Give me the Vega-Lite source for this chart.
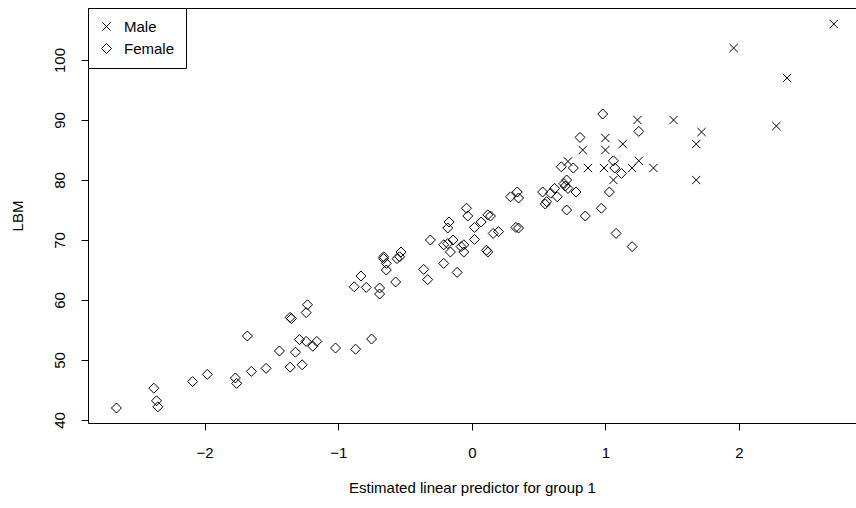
{
  "$schema": "https://vega.github.io/schema/vega-lite/v6.json",
  "autosize": {"type": "none"},
  "padding": {"left": 88, "top": 8, "right": 0, "bottom": 85},
  "width": 768,
  "height": 415,
  "background": "white",
  "data": {"values": [
    {"x": 2.71, "lbm": 106, "sex": "Male"},
    {"x": 1.96, "lbm": 102, "sex": "Male"},
    {"x": 2.36, "lbm": 97, "sex": "Male"},
    {"x": 2.28, "lbm": 89, "sex": "Male"},
    {"x": 1.51, "lbm": 90, "sex": "Male"},
    {"x": 1.72, "lbm": 88, "sex": "Male"},
    {"x": 1.68, "lbm": 86, "sex": "Male"},
    {"x": 1.68, "lbm": 80, "sex": "Male"},
    {"x": 1.24, "lbm": 90, "sex": "Male"},
    {"x": 1.13, "lbm": 86, "sex": "Male"},
    {"x": 1.00, "lbm": 87, "sex": "Male"},
    {"x": 0.83, "lbm": 85, "sex": "Male"},
    {"x": 1.00, "lbm": 85, "sex": "Male"},
    {"x": 0.72, "lbm": 83.1, "sex": "Male"},
    {"x": 0.87, "lbm": 82, "sex": "Male"},
    {"x": 0.99, "lbm": 82, "sex": "Male"},
    {"x": 1.20, "lbm": 82, "sex": "Male"},
    {"x": 1.25, "lbm": 83.2, "sex": "Male"},
    {"x": 1.36, "lbm": 82, "sex": "Male"},
    {"x": 1.06, "lbm": 80, "sex": "Male"},
    {"x": -2.66, "lbm": 42.0, "sex": "Female"},
    {"x": -2.38, "lbm": 45.3, "sex": "Female"},
    {"x": -2.36, "lbm": 43.2, "sex": "Female"},
    {"x": -2.35, "lbm": 42.2, "sex": "Female"},
    {"x": -2.09, "lbm": 46.4, "sex": "Female"},
    {"x": -1.98, "lbm": 47.6, "sex": "Female"},
    {"x": -1.77, "lbm": 47.0, "sex": "Female"},
    {"x": -1.76, "lbm": 46.1, "sex": "Female"},
    {"x": -1.65, "lbm": 48.1, "sex": "Female"},
    {"x": -1.54, "lbm": 48.6, "sex": "Female"},
    {"x": -1.68, "lbm": 54.0, "sex": "Female"},
    {"x": -1.44, "lbm": 51.5, "sex": "Female"},
    {"x": -1.36, "lbm": 57.1, "sex": "Female"},
    {"x": -1.35, "lbm": 56.9, "sex": "Female"},
    {"x": -1.32, "lbm": 51.3, "sex": "Female"},
    {"x": -1.36, "lbm": 48.8, "sex": "Female"},
    {"x": -1.27, "lbm": 49.2, "sex": "Female"},
    {"x": -1.29, "lbm": 53.4, "sex": "Female"},
    {"x": -1.23, "lbm": 59.2, "sex": "Female"},
    {"x": -1.24, "lbm": 57.9, "sex": "Female"},
    {"x": -1.24, "lbm": 53.1, "sex": "Female"},
    {"x": -1.19, "lbm": 52.3, "sex": "Female"},
    {"x": -1.16, "lbm": 53.1, "sex": "Female"},
    {"x": -1.02, "lbm": 52.0, "sex": "Female"},
    {"x": -0.87, "lbm": 51.8, "sex": "Female"},
    {"x": -0.75, "lbm": 53.5, "sex": "Female"},
    {"x": -0.83, "lbm": 64.0, "sex": "Female"},
    {"x": -0.88, "lbm": 62.2, "sex": "Female"},
    {"x": -0.79, "lbm": 62.1, "sex": "Female"},
    {"x": -0.69, "lbm": 62.0, "sex": "Female"},
    {"x": -0.69, "lbm": 61.0, "sex": "Female"},
    {"x": -0.57, "lbm": 63.0, "sex": "Female"},
    {"x": -0.66, "lbm": 66.9, "sex": "Female"},
    {"x": -0.64, "lbm": 66.1, "sex": "Female"},
    {"x": -0.64, "lbm": 65.0, "sex": "Female"},
    {"x": -0.66, "lbm": 67.2, "sex": "Female"},
    {"x": -0.54, "lbm": 67.2, "sex": "Female"},
    {"x": -0.53, "lbm": 68.0, "sex": "Female"},
    {"x": -0.56, "lbm": 66.9, "sex": "Female"},
    {"x": -0.36, "lbm": 65.1, "sex": "Female"},
    {"x": -0.33, "lbm": 63.4, "sex": "Female"},
    {"x": -0.31, "lbm": 70.0, "sex": "Female"},
    {"x": -0.21, "lbm": 66.1, "sex": "Female"},
    {"x": -0.11, "lbm": 64.6, "sex": "Female"},
    {"x": -0.21, "lbm": 69.2, "sex": "Female"},
    {"x": -0.18, "lbm": 69.4, "sex": "Female"},
    {"x": -0.14, "lbm": 70.0, "sex": "Female"},
    {"x": -0.16, "lbm": 68.0, "sex": "Female"},
    {"x": -0.17, "lbm": 73.0, "sex": "Female"},
    {"x": -0.18, "lbm": 72.0, "sex": "Female"},
    {"x": -0.06, "lbm": 69.2, "sex": "Female"},
    {"x": -0.06, "lbm": 68.0, "sex": "Female"},
    {"x": -0.04, "lbm": 75.3, "sex": "Female"},
    {"x": -0.03, "lbm": 74.0, "sex": "Female"},
    {"x": 0.02, "lbm": 72.1, "sex": "Female"},
    {"x": 0.02, "lbm": 70.1, "sex": "Female"},
    {"x": 0.07, "lbm": 73.0, "sex": "Female"},
    {"x": 0.12, "lbm": 74.2, "sex": "Female"},
    {"x": 0.14, "lbm": 74.0, "sex": "Female"},
    {"x": 0.16, "lbm": 71.1, "sex": "Female"},
    {"x": 0.20, "lbm": 71.4, "sex": "Female"},
    {"x": -0.08, "lbm": 68.9, "sex": "Female"},
    {"x": 0.11, "lbm": 68.3, "sex": "Female"},
    {"x": 0.12, "lbm": 68.0, "sex": "Female"},
    {"x": 0.33, "lbm": 72.1, "sex": "Female"},
    {"x": 0.35, "lbm": 72.0, "sex": "Female"},
    {"x": 0.29, "lbm": 77.2, "sex": "Female"},
    {"x": 0.34, "lbm": 78.0, "sex": "Female"},
    {"x": 0.35, "lbm": 77.0, "sex": "Female"},
    {"x": 0.53, "lbm": 78.0, "sex": "Female"},
    {"x": 0.55, "lbm": 76.0, "sex": "Female"},
    {"x": 0.56, "lbm": 76.4, "sex": "Female"},
    {"x": 0.59, "lbm": 77.8, "sex": "Female"},
    {"x": 0.62, "lbm": 78.6, "sex": "Female"},
    {"x": 0.64, "lbm": 77.2, "sex": "Female"},
    {"x": 0.67, "lbm": 82.2, "sex": "Female"},
    {"x": 0.69, "lbm": 79.4, "sex": "Female"},
    {"x": 0.70, "lbm": 79.0, "sex": "Female"},
    {"x": 0.72, "lbm": 78.6, "sex": "Female"},
    {"x": 0.71, "lbm": 80.0, "sex": "Female"},
    {"x": 0.71, "lbm": 75.0, "sex": "Female"},
    {"x": 0.76, "lbm": 82.0, "sex": "Female"},
    {"x": 0.78, "lbm": 78.0, "sex": "Female"},
    {"x": 0.81, "lbm": 87.1, "sex": "Female"},
    {"x": 0.85, "lbm": 74.0, "sex": "Female"},
    {"x": 0.97, "lbm": 75.3, "sex": "Female"},
    {"x": 0.98, "lbm": 91.0, "sex": "Female"},
    {"x": 1.03, "lbm": 78.0, "sex": "Female"},
    {"x": 1.06, "lbm": 83.2, "sex": "Female"},
    {"x": 1.07, "lbm": 82.0, "sex": "Female"},
    {"x": 1.08, "lbm": 71.1, "sex": "Female"},
    {"x": 1.12, "lbm": 81.1, "sex": "Female"},
    {"x": 1.20, "lbm": 68.9, "sex": "Female"},
    {"x": 1.25, "lbm": 88.1, "sex": "Female"}
  ]},
  "layer": [
    {
      "mark": {"type": "point", "filled": false, "color": "black", "strokeWidth": 1, "opacity": 1, "size": 100},
      "encoding": {
        "x": {"field": "x", "type": "quantitative",
              "scale": {"domain": [-2.873, 2.876], "nice": false, "zero": false},
              "axis": {"orient": "bottom", "values": [-2, -1, 0, 1, 2], "title": "Estimated linear predictor for group 1",
                       "labelPadding": 15, "titlePadding": 20}},
        "y": {"field": "lbm", "type": "quantitative",
              "scale": {"domain": [39.5, 108.67], "nice": false, "zero": false},
              "axis": {"values": [40, 50, 60, 70, 80, 90, 100], "title": "LBM", "labelAngle": -90,
                       "labelPadding": 14, "titlePadding": 27}},
        "shape": {"field": "sex", "type": "nominal",
                  "scale": {"domain": ["Male", "Female"], "range": ["M-0.83,-0.83L0.83,0.83M-0.83,0.83L0.83,-0.83", "diamond"]},
                  "legend": {"title": null, "orient": "none", "legendX": 0, "legendY": 0,
                             "strokeColor": "black", "fillColor": "white", "padding": 11,
                             "labelFont": "Liberation Sans", "labelFontSize": 15, "labelColor": "black",
                             "symbolSize": 100, "symbolStrokeColor": "black", "symbolStrokeWidth": 1,
                             "symbolFillColor": "transparent", "rowPadding": 6, "labelOffset": 10, "cornerRadius": 0}}
      }
    },
    {
      "mark": {"type": "point", "opacity": 0},
      "encoding": {
        "x": {"field": "x", "type": "quantitative",
              "axis": {"orient": "top", "labels": false, "ticks": false, "domain": true, "title": null}}
      }
    }
  ],
  "resolve": {"axis": {"x": "independent"}},
  "config": {
    "view": {"stroke": null},
    "axis": {"grid": false, "domainColor": "black", "domainWidth": 1, "tickColor": "black", "tickWidth": 1, "tickSize": 7,
             "labelColor": "black", "titleColor": "black", "labelFont": "Liberation Sans", "titleFont": "Liberation Sans",
             "labelFontSize": 15, "titleFontSize": 15, "titleFontWeight": "normal"}
  }
}
